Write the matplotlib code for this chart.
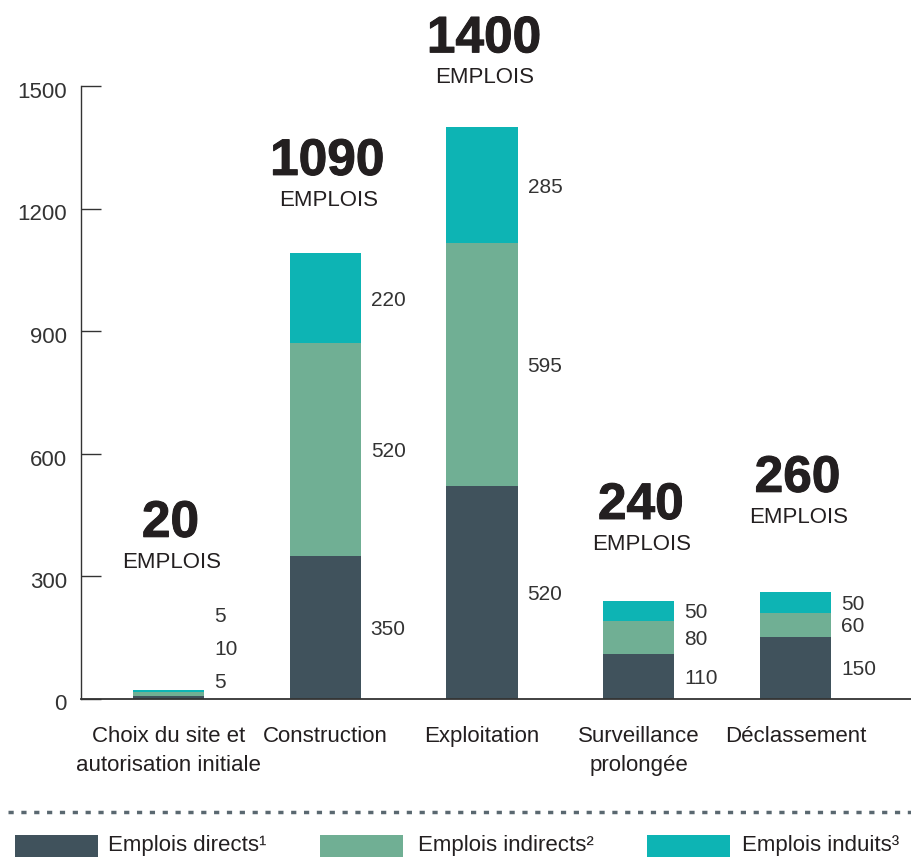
import matplotlib
matplotlib.use("Agg")
import matplotlib.pyplot as plt
import matplotlib.transforms as mtransforms
import matplotlib.patheffects as pe
from matplotlib.patches import Rectangle
from matplotlib.lines import Line2D
import numpy as np

plt.rcParams['font.family'] = ['Liberation Sans', 'DejaVu Sans']

categories = ["Choix du site et\nautorisation initiale", "Construction", "Exploitation",
              "Surveillance\nprolongée", "Déclassement"]
directs = [5, 350, 520, 110, 150]
indirects = [10, 520, 595, 80, 60]
induits = [5, 220, 285, 50, 50]
totals = [20, 1090, 1400, 240, 260]
series_names = ["Emplois directs¹", "Emplois indirects²", "Emplois induits³"]
yticks = [0, 300, 600, 900, 1200, 1500]

colors = ["#40525c", "#70af94", "#0db4b4"]
text_dark = "#231f20"
text_val = "#333333"

W, H = 912, 857
fig = plt.figure(figsize=(W / 100, H / 100), dpi=100)
ax = fig.add_axes([81 / W, 1 - 698.5 / H, (912 - 81) / W, (698.5 - 86) / H])

x = np.arange(len(categories))
width = 0.453
series = [directs, indirects, induits]
bottom = np.zeros(len(categories))
for vals, c in zip(series, colors):
    ax.bar(x, vals, width, bottom=bottom, color=c, linewidth=0, zorder=2)
    bottom += np.array(vals)

ax.set_xlim(-0.558, 4.743)
ax.set_ylim(0, 1500)

# value labels to the right of bars
px2pt = 72 / 100
for i in range(len(categories)):
    b = 0
    mids = []
    for vals in series:
        mids.append(b + vals[i] / 2)
        b += vals[i]
    if i == 0:
        mids = [45, 125, 205]  # small segments: labels spread out
    for vals, m in zip(series, mids):
        ax.annotate(str(vals[i]), xy=(x[i] + width / 2, m), xytext=(10 * px2pt, -2 * px2pt),
                    textcoords='offset points', ha='left', va='center',
                    fontsize=15, color=text_val)

# totals above bars
num_off = [167, 92, 88, 95, 114]
for i, t in enumerate(totals):
    ax.annotate(str(t), xy=(x[i], t), xytext=(2 * px2pt, num_off[i] * px2pt),
                textcoords='offset points', ha='center', va='center',
                fontsize=37, fontweight='bold', color=text_dark, annotation_clip=False,
                path_effects=[pe.withStroke(linewidth=0.7, foreground=text_dark)])
    ax.annotate("EMPLOIS", xy=(x[i], t), xytext=(3 * px2pt, (num_off[i] - 39) * px2pt),
                textcoords='offset points', ha='center', va='center',
                fontsize=16, color=text_dark, annotation_clip=False)

# axes styling
for s in ['top', 'right']:
    ax.spines[s].set_visible(False)
ax.spines['left'].set_color('#333333')
ax.spines['left'].set_linewidth(1.0)
ax.spines['bottom'].set_color('#333333')
ax.spines['bottom'].set_linewidth(1.3)
ax.set_yticks(yticks)
ax.set_yticklabels([str(v) for v in yticks])
ax.tick_params(axis='y', direction='in', length=20 * px2pt, width=1.0, color='#333333',
               pad=14 * px2pt, labelsize=16, labelcolor=text_val)
off = mtransforms.ScaledTranslation(0, -4 / 100, fig.dpi_scale_trans)
for lab in ax.get_yticklabels():
    lab.set_transform(lab.get_transform() + off)
ax.set_xticks(x)
ax.set_xticklabels(categories, fontsize=16, color=text_dark, linespacing=1.5)
ax.tick_params(axis='x', length=0, pad=20)

# legend separator (dotted line)
fig.add_artist(Line2D([8 / W, 1.0], [1 - 812 / H, 1 - 812 / H], transform=fig.transFigure,
                      color='#5a6870', linewidth=2.5, linestyle=(0, (1.5, 2.2))))

# manual legend
patch_x = [15, 320, 647]
text_x = [108, 418, 742]
for px, tx, c, name in zip(patch_x, text_x, colors, series_names):
    fig.add_artist(Rectangle((px / W, 0), 83 / W, (857 - 835) / H, transform=fig.transFigure,
                             facecolor=c, edgecolor='none'))
    fig.text(tx / W, 1 - 845 / H, name, ha='left', va='center', fontsize=16, color=text_dark)

fig.savefig("out.png", dpi=100)
